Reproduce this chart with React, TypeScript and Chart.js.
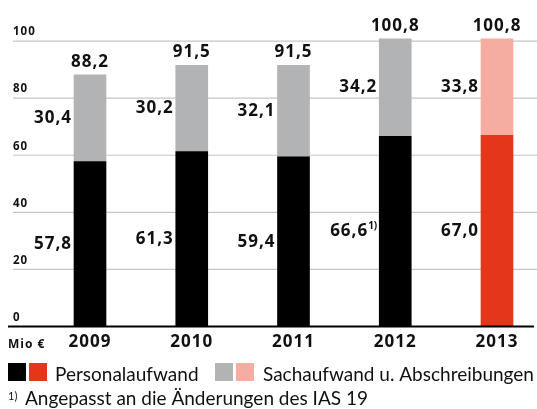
import { useEffect, useRef } from "react";
import { Chart, registerables } from "chart.js";

Chart.register(...registerables);

// ---- data ----
const years = ["2009", "2010", "2011", "2012", "2013"];
const personal = [57.8, 61.3, 59.4, 66.6, 67.0];
const sach = [30.4, 30.2, 32.1, 34.2, 33.8];
const totals = [88.2, 91.5, 91.5, 100.8, 100.8];
const personalNotes = ["", "", "", "1)", ""];
const yTicks = [0, 20, 40, 60, 80, 100];
const unitLabel = "Mio €";
const legendLabels = ["Personalaufwand", "Sachaufwand u. Abschreibungen"];
const footnoteMark = "1)";
const footnoteText = "Angepasst an die Änderungen des IAS 19";

// ---- styles ----
const BLACK = "#000000";
const RED = "#E3361B";
const GRAY = "#B2B3B5";
const PINK = "#F4ADA0";
const TEXT = "#111111";
const GRID = "#C6C6C6";
const BOLD_FONT = "'Open Sans', 'Noto Sans', sans-serif";
const REG_FONT = "Lato, 'Open Sans', sans-serif";

const fmt = (v: number) => v.toFixed(1).replace(".", ",");

const decoPlugin = {
  id: "deco",
  beforeDatasetsDraw(chart: any) {
    const ctx = chart.ctx;
    const y = chart.scales.y;
    ctx.save();
    ctx.strokeStyle = GRID;
    ctx.lineWidth = 1.2;
    yTicks.forEach((t) => {
      if (t === 0) return;
      const py = y.getPixelForValue(t);
      ctx.beginPath();
      ctx.moveTo(13, py);
      ctx.lineTo(537, py);
      ctx.stroke();
    });
    ctx.restore();
  },
  afterDatasetsDraw(chart: any) {
    const ctx = chart.ctx;
    const y = chart.scales.y;
    const metaP = chart.getDatasetMeta(0);
    const metaS = chart.getDatasetMeta(1);
    ctx.save();

    // baseline
    const py0 = y.getPixelForValue(0);
    ctx.strokeStyle = "#000";
    ctx.lineWidth = 2;
    ctx.beginPath();
    ctx.moveTo(8, py0);
    ctx.lineTo(534, py0);
    ctx.stroke();

    // y tick labels
    ctx.fillStyle = TEXT;
    ctx.letterSpacing = "1px";
    ctx.font = `bold 11.5px ${BOLD_FONT}`;
    ctx.textAlign = "left";
    ctx.textBaseline = "middle";
    yTicks.forEach((t) => {
      ctx.fillText(String(t), 13, y.getPixelForValue(t) - 9);
    });

    // unit label
    ctx.font = `bold 12px ${BOLD_FONT}`;
    ctx.fillText(unitLabel, 8, py0 + 18);

    years.forEach((yr, i) => {
      const bp = metaP.data[i].getProps(["x", "y", "base", "width"], true);
      const bs = metaS.data[i].getProps(["x", "y", "base", "width"], true);
      const left = bp.x - bp.width / 2;

      ctx.fillStyle = TEXT;
      ctx.letterSpacing = "1px";
      ctx.font = `bold 17px ${BOLD_FONT}`;
      ctx.textBaseline = "middle";

      // year label
      ctx.textAlign = "center";
      ctx.fillText(yr, bp.x, py0 + 16);

      // total
      ctx.textBaseline = "alphabetic";
      ctx.fillText(fmt(totals[i]), bs.x, bs.y - 8);

      // sach label
      ctx.textAlign = "right";
      ctx.textBaseline = "middle";
      ctx.fillText(fmt(sach[i]), left - 2, (bs.y + bs.base) / 2);

      // personal label (+ footnote mark)
      const pm = (bp.y + bp.base) / 2;
      let rx = left - 2;
      if (personalNotes[i]) {
        ctx.letterSpacing = "0px";
        ctx.font = `bold 10px ${BOLD_FONT}`;
        const w = ctx.measureText(personalNotes[i]).width;
        ctx.fillText(personalNotes[i], left - 2, pm - 5);
        rx = left - 2 - w;
        ctx.letterSpacing = "1px";
        ctx.font = `bold 17px ${BOLD_FONT}`;
      }
      ctx.fillText(fmt(personal[i]), rx, pm);
    });

    ctx.letterSpacing = "0px";
    // legend
    const ly = 363;
    ctx.fillStyle = BLACK;
    ctx.fillRect(8, ly, 18, 18);
    ctx.fillStyle = RED;
    ctx.fillRect(29, ly, 18, 18);
    ctx.fillStyle = GRAY;
    ctx.fillRect(215, ly, 18, 18);
    ctx.fillStyle = PINK;
    ctx.fillRect(236, ly, 18, 18);
    ctx.fillStyle = TEXT;
    ctx.font = `19px ${REG_FONT}`;
    ctx.textAlign = "left";
    ctx.textBaseline = "alphabetic";
    ctx.fillText(legendLabels[0], 55, 381);
    ctx.fillText(legendLabels[1], 263, 381);

    // footnote
    ctx.font = `11px ${REG_FONT}`;
    ctx.fillText(footnoteMark, 8, 400);
    ctx.font = `19px ${REG_FONT}`;
    ctx.fillText(footnoteText, 25, 405);

    ctx.restore();
  },
};

export default function App() {
  const ref = useRef<HTMLCanvasElement>(null);
  useEffect(() => {
    document.body.style.margin = "0";
    const chart = new Chart(ref.current as HTMLCanvasElement, {
      type: "bar",
      data: {
        labels: years,
        datasets: [
          {
            label: legendLabels[0],
            data: personal,
            backgroundColor: [BLACK, BLACK, BLACK, BLACK, RED],
            barThickness: 32,
            clip: false as any,
          },
          {
            label: legendLabels[1],
            data: sach,
            backgroundColor: [GRAY, GRAY, GRAY, GRAY, PINK],
            barThickness: 32,
            clip: false as any,
          },
        ],
      },
      options: {
        animation: false,
        responsive: false,
        devicePixelRatio: 1,
        layout: { padding: { left: 90, right: 40, top: 12.5, bottom: 82.5 } },
        plugins: { legend: { display: false }, tooltip: { enabled: false } },
        scales: {
          x: { type: "category", stacked: true, offset: false, display: false },
          y: { type: "linear", stacked: true, min: 0, max: 110, display: false },
        },
      },
      plugins: [decoPlugin],
    });
    return () => chart.destroy();
  }, []);
  return (
    <canvas
      ref={ref}
      width={537}
      height={409}
      style={{ display: "block", width: 537, height: 409 }}
    />
  );
}
